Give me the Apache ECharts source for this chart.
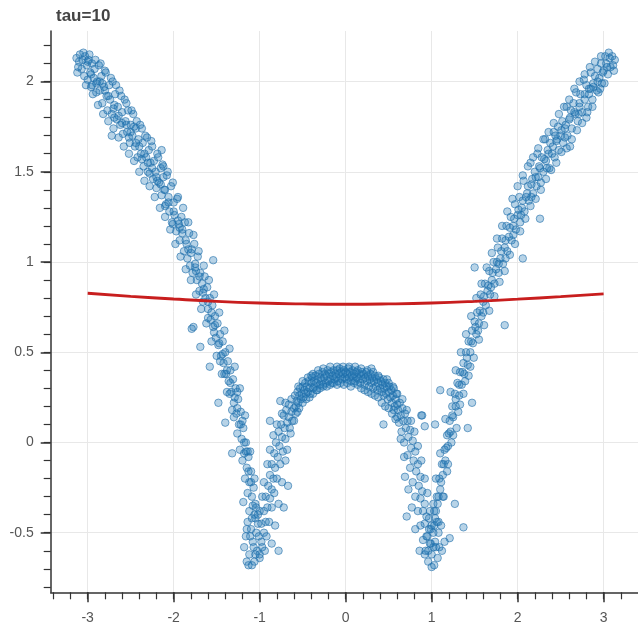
<!DOCTYPE html>
<html>
<head>
<meta charset="utf-8">
<script src="https://cdn.jsdelivr.net/npm/echarts@6/dist/echarts.min.js"></script>
<style>
  html, body { margin: 0; padding: 0; background: #fff; }
  #chart { width: 638px; height: 630px; }
</style>
</head>
<body>
<div id="chart"></div>
<script>
// tick labels
let xTicks = [-3, -2, -1, 0, 1, 2, 3];
let yTicks = [-0.5, 0, 0.5, 1, 1.5, 2];

// red fitted curve
let curveX = [-3, -2.5, -2, -1.5, -1, -0.5, 0, 0.5, 1, 1.5, 2, 2.5, 3];
let curveY = [0.827, 0.81, 0.795, 0.782, 0.773, 0.768, 0.766, 0.768, 0.773, 0.782, 0.794, 0.808, 0.824];

// scatter points
let leftArm = [
  [-3.13,2.13],[-3.10,2.11],[-3.09,2.15],[-3.07,2.07],[-3.06,2.12],[-3.04,2.03],[-3.03,2.14],[-3.01,2.09],
  [-3.00,2.01],[-2.99,2.12],[-2.97,2.05],[-2.96,1.97],[-2.95,2.10],[-2.93,2.02],[-2.92,2.07],[-2.90,1.94],
  [-2.89,2.00],[-2.87,2.09],[-2.86,1.95],[-2.84,2.03],[-2.83,1.88],[-2.81,1.97],[-2.80,2.06],[-2.78,1.92],
  [-2.77,1.84],[-2.75,1.98],[-2.74,1.90],[-2.72,1.82],[-2.71,2.00],[-2.69,1.87],[-2.68,1.93],[-2.66,1.79],
  [-2.65,1.86],[-2.63,1.95],[-2.62,1.76],[-2.60,1.83],[-2.59,1.71],[-2.57,1.90],[-2.56,1.78],[-2.54,1.72],
  [-2.53,1.84],[-2.51,1.66],[-2.50,1.76],[-2.48,1.70],[-2.47,1.82],[-2.45,1.64],[-2.44,1.74],[-2.42,1.58],
  [-2.41,1.68],[-2.39,1.76],[-2.38,1.60],[-2.36,1.66],[-2.35,1.53],[-2.33,1.70],[-2.32,1.58],[-2.30,1.50],
  [-2.29,1.62],[-2.27,1.55],[-2.26,1.67],[-2.24,1.46],[-2.23,1.56],[-2.21,1.50],[-2.20,1.41],[-2.18,1.58],
  [-2.17,1.44],[-2.15,1.52],[-2.14,1.37],[-2.12,1.47],[-2.11,1.40],[-2.09,1.32],[-2.08,1.48],[-2.06,1.36],
  [-2.05,1.28],[-2.03,1.42],[-2.02,1.22],[-2.00,1.33],[-1.99,1.26],[-1.97,1.17],[-1.96,1.35],[-1.94,1.21],
  [-1.93,1.12],[-1.91,1.25],[-1.90,1.16],[-1.88,1.06],[-1.87,1.22],[-1.85,1.10],[-1.84,1.02],[-1.82,1.16],
  [-1.81,0.98],[-1.79,1.07],[-1.78,0.94],[-1.76,1.10],[-1.75,0.99],[-1.73,0.90],[-1.72,1.03],[-1.70,0.84],
  [-1.69,0.94],[-1.67,0.88],[-1.66,0.78],[-1.64,0.92],[-1.63,0.80],[-1.61,0.86],[-1.60,0.74],[-1.58,0.80],
  [-1.57,0.68],[-1.55,0.76],[-1.54,0.64],[-1.52,0.70],[-1.51,0.58],[-1.49,0.66],[-1.48,0.54],[-1.46,0.60],
  [-1.45,0.48],[-1.43,0.56],[-1.42,0.44],[-1.40,0.50],[-1.39,0.38],[-1.37,0.45],[-1.36,0.34],[-1.34,0.40],
  [-1.33,0.28],[-1.31,0.35],[-1.30,0.22],[-1.28,0.30],[-1.27,0.16],[-1.25,0.24],[-1.24,0.10],[-1.22,0.17],
  [-1.21,0.02],[-1.19,0.08],[-1.18,-0.06],[-1.16,0.00],[-1.15,-0.14],[-1.13,-0.08],[-1.12,-0.22],[-1.10,-0.16],
  [-1.09,-0.30],[-1.07,-0.25],[-1.06,-0.40],[-1.05,-0.34],[-1.04,-0.50],
  [-1.08,-0.55],[-1.12,-0.62],[-1.15,-0.66],[-1.13,-0.68],[-1.03,-0.60],[-1.10,-0.48],[-1.00,-0.64],[-1.06,-0.66],
  [-1.18,-0.58],[-1.05,-0.62],[-0.98,-0.55],[-1.09,-0.68],[-1.02,-0.40],[-1.14,-0.44],
  [-1.79,0.63],[-1.69,0.53],[-1.58,0.42],[-1.48,0.22],[-1.40,0.11],[-1.32,-0.06],[-1.15,-0.48],[-0.78,-0.60],
  [-2.72,1.70],[-2.14,1.62],[-2.12,1.53],[-1.54,1.01],[-1.77,0.64],[-1.14,-0.05]
];

let leftArmEdge = [
  [-3.12,2.05],[-3.05,2.16],[-3.02,1.98],[-2.98,2.15],[-2.94,1.93],[-2.91,2.12],[-2.88,1.87],[-2.85,2.10],
  [-2.82,1.82],[-2.79,2.05],[-2.76,1.78],[-2.73,2.02],[-2.70,1.74],[-2.67,1.98],[-2.64,1.69],[-2.61,1.92],
  [-2.58,1.64],[-2.55,1.88],[-2.52,1.60],[-2.49,1.84],[-2.46,1.56],[-2.43,1.78],[-2.40,1.50],[-2.37,1.74],
  [-2.34,1.45],[-2.31,1.69],[-2.28,1.42],[-2.25,1.64],[-2.22,1.36],[-2.19,1.60],[-2.16,1.30],[-2.13,1.54],
  [-2.10,1.25],[-2.07,1.50],[-2.04,1.18],[-2.01,1.44],[-1.98,1.10],[-1.95,1.36],[-1.92,1.03],[-1.89,1.30],
  [-1.86,0.96],[-1.83,1.22],[-1.80,0.90],[-1.77,1.15],[-1.74,0.82],[-1.71,1.06],[-1.68,0.74],[-1.65,0.98],
  [-1.62,0.66],[-1.59,0.90],[-1.56,0.56],[-1.53,0.82],[-1.50,0.48],[-1.47,0.72],[-1.44,0.38],[-1.41,0.62],
  [-1.38,0.28],[-1.35,0.52],[-1.32,0.18],[-1.29,0.42],[-1.26,0.05],[-1.23,0.30],[-1.20,-0.10],[-1.17,0.15],
  [-1.14,-0.28],[-1.11,-0.05],[-1.09,-0.42],[-1.06,-0.20],[-1.04,-0.36],[-1.11,-0.52],[-1.02,-0.45]
];

let leftArmCore = [
  [-3.11,2.08],[-3.00,2.11],[-2.96,2.04],[-2.90,1.99],[-2.86,2.00],[-2.80,1.95],[-2.76,1.92],[-2.70,1.85],
  [-2.64,1.81],[-2.60,1.77],[-2.55,1.76],[-2.50,1.72],[-2.44,1.66],[-2.40,1.64],[-2.34,1.60],[-2.30,1.55],
  [-2.25,1.52],[-2.20,1.47],[-2.15,1.43],[-2.10,1.40],[-2.06,1.33],[-2.00,1.28],[-1.95,1.23],[-1.90,1.18],
  [-1.86,1.12],[-1.80,1.05],[-1.75,0.97],[-1.70,0.92],[-1.65,0.85],[-1.60,0.78],[-1.56,0.72],[-1.52,0.65],
  [-1.47,0.55],[-1.43,0.49],[-1.38,0.40],[-1.34,0.33],[-1.29,0.25],[-1.26,0.19],[-1.22,0.10],[-1.18,0.00],
  [-1.16,-0.05],[-1.13,-0.16],[-1.10,-0.22],[-1.08,-0.35],[-1.05,-0.42],
  [-2.95,1.98],[-2.83,1.99],[-2.69,1.80],[-2.52,1.69],[-2.46,1.75],[-2.37,1.57],[-2.28,1.49],[-2.19,1.45],
  [-2.10,1.31],[-2.01,1.21],[-1.93,1.19],[-1.83,1.07],[-1.74,0.95],[-1.66,0.83],[-1.60,0.69],[-1.53,0.61],
  [-1.46,0.45],[-1.41,0.38],[-1.35,0.27],[-1.30,0.14],[-1.26,0.28],[-1.20,0.12],[-1.23,-0.04],[-1.17,-0.20],
  [-1.19,-0.33],[-1.12,-0.38],[-1.16,-0.52],[-1.07,-0.58]
];

let hump = [
  [-1.00,-0.62],[-0.97,-0.58],[-1.01,-0.52],[-0.95,-0.50],[-0.98,-0.45],[-0.93,-0.44],[-0.95,-0.38],[-0.91,-0.36],
  [-0.93,-0.30],[-0.88,-0.31],[-0.90,-0.24],[-0.86,-0.26],[-0.88,-0.18],[-0.84,-0.20],[-0.86,-0.12],[-0.82,-0.14],
  [-0.83,-0.06],[-0.79,-0.08],[-0.81,0.00],[-0.77,-0.02],[-0.78,0.06],[-0.74,0.03],[-0.75,0.10],[-0.71,0.08],
  [-0.72,0.15],[-0.68,0.11],[-0.69,0.18],[-0.66,0.14],[-0.66,0.21],[-0.63,0.17],[-0.63,0.24],[-0.60,0.19],
  [-0.88,0.12],[-0.76,0.23],[-0.72,-0.36],[-0.67,-0.24],[-0.68,-0.04],
  [-0.59,0.26],[-0.58,0.20],[-0.57,0.23],[-0.56,0.28],[-0.55,0.22],[-0.54,0.26],[-0.53,0.30],[-0.52,0.24],
  [-0.51,0.27],[-0.50,0.31],[-0.49,0.25],[-0.48,0.29],[-0.47,0.33],[-0.46,0.27],[-0.45,0.31],[-0.44,0.28],
  [-0.43,0.34],[-0.42,0.30],[-0.41,0.27],[-0.40,0.33],[-0.39,0.36],[-0.38,0.30],[-0.37,0.34],[-0.36,0.31],
  [-0.35,0.37],[-0.34,0.33],[-0.33,0.29],[-0.32,0.35],[-0.31,0.38],[-0.30,0.32],[-0.29,0.36],[-0.28,0.34],
  [-0.27,0.39],[-0.26,0.31],[-0.25,0.36],[-0.24,0.38],[-0.23,0.33],[-0.22,0.37],[-0.21,0.40],[-0.20,0.34],
  [-0.19,0.38],[-0.18,0.35],[-0.17,0.39],[-0.16,0.33],[-0.15,0.37],[-0.14,0.40],[-0.13,0.35],[-0.12,0.38],
  [-0.11,0.36],[-0.10,0.40],[-0.09,0.34],[-0.08,0.38],[-0.07,0.41],[-0.06,0.36],[-0.05,0.39],[-0.04,0.35],
  [-0.03,0.38],[-0.02,0.40],[-0.01,0.36],[0.00,0.39],[0.01,0.35],[0.02,0.38],[0.03,0.41],[0.04,0.36],
  [0.05,0.39],[0.06,0.34],[0.07,0.37],[0.08,0.40],[0.09,0.36],[0.10,0.38],[0.11,0.34],[0.12,0.39],
  [0.13,0.36],[0.14,0.40],[0.15,0.35],[0.16,0.38],[0.17,0.33],[0.18,0.37],[0.19,0.39],[0.20,0.35],
  [0.21,0.38],[0.22,0.32],[0.23,0.36],[0.24,0.39],[0.25,0.34],[0.26,0.37],[0.27,0.31],[0.28,0.35],
  [0.29,0.38],[0.30,0.33],[0.31,0.36],[0.32,0.30],[0.33,0.34],[0.34,0.37],[0.35,0.31],[0.36,0.35],
  [0.37,0.29],[0.38,0.33],[0.39,0.36],[0.40,0.30],[0.41,0.34],[0.42,0.28],[0.43,0.32],[0.44,0.26],
  [0.45,0.30],[0.46,0.33],[0.47,0.27],[0.48,0.31],[0.49,0.24],[0.50,0.28],[0.51,0.31],[0.52,0.25],
  [0.53,0.29],[0.54,0.22],[0.55,0.26],[0.56,0.30],[0.57,0.20],[0.58,0.24],[0.59,0.27],[0.60,0.21],
  [0.61,0.18],[0.63,0.22],[0.64,0.15],[0.66,0.19],[0.67,0.12],[0.69,0.16],[0.70,0.08],[0.72,0.12],
  [0.73,0.03],[0.75,0.07],[0.76,-0.03],[0.78,0.01],[0.79,-0.10],[0.81,-0.05],[0.82,-0.16],[0.84,-0.12],
  [0.85,-0.24],[0.87,-0.19],[0.87,-0.31],[0.89,-0.27],[0.90,-0.38],[0.92,-0.34],[0.92,-0.45],[0.94,-0.41],
  [0.95,-0.52],[0.97,-0.48],[0.96,-0.60],[0.99,-0.56],
  [0.71,-0.41],[0.69,-0.19],[0.44,0.10],[0.88,0.15],[0.92,0.09]
];

let humpEdge = [
  [-0.58,0.16],[-0.54,0.19],[-0.50,0.22],[-0.46,0.24],[-0.42,0.25],[-0.38,0.27],[-0.34,0.29],[-0.30,0.30],
  [-0.26,0.32],[-0.22,0.31],[-0.18,0.32],[-0.14,0.33],[-0.10,0.32],[-0.06,0.33],[-0.02,0.32],[0.02,0.33],
  [0.06,0.31],[0.10,0.33],[0.14,0.32],[0.18,0.30],[0.22,0.29],[0.26,0.28],[0.30,0.27],[0.34,0.26],
  [0.38,0.25],[0.42,0.22],[0.46,0.20],[0.50,0.19],[0.54,0.16],[0.58,0.13],
  [-0.50,0.34],[-0.44,0.36],[-0.38,0.38],[-0.32,0.40],[-0.26,0.41],[-0.18,0.42],[-0.10,0.42],[-0.03,0.42],
  [0.04,0.42],[0.11,0.42],[0.18,0.41],[0.25,0.40],[0.32,0.39],[0.38,0.37],[0.44,0.35],[0.50,0.33],
  [0.55,0.31],[0.60,0.27],
  [-0.62,0.12],[-0.65,0.08],[-0.70,0.02],[-0.73,-0.05],[-0.76,-0.12],[-0.80,-0.20],[-0.83,-0.28],[-0.86,-0.36],
  [-0.89,-0.44],[-0.92,-0.52],[-0.94,-0.60],[-0.70,0.22],[-0.74,0.16],[-0.80,0.10],[-0.84,0.04],[-0.88,-0.04],
  [-0.91,-0.12],[-0.95,-0.22],[-0.97,-0.30],[-1.00,-0.38],
  [0.62,0.11],[0.65,0.06],[0.68,0.00],[0.72,-0.07],[0.75,-0.14],[0.78,-0.22],[0.81,-0.30],[0.84,-0.38],
  [0.87,-0.46],[0.90,-0.54],[0.92,-0.62],[0.66,0.24],[0.71,0.18],[0.76,0.12],[0.80,0.06],[0.84,-0.02],
  [0.88,-0.10],[0.92,-0.20],[0.95,-0.28],[0.98,-0.38],[1.00,-0.46],
  [-0.64,0.05],[-0.60,0.12],[-0.56,0.17],[-0.70,-0.10],[-0.74,-0.22],[-0.78,-0.34],[-0.82,-0.46],[-0.86,-0.56],
  [0.60,0.14],[0.56,0.18],[0.64,0.02],[0.68,-0.08],[0.73,-0.26],[0.77,-0.36],[0.81,-0.48],[0.86,-0.60],
  [0.30,0.41],[-0.40,0.37],[0.48,0.35],[-0.55,0.31]
];

let rightArm = [
  [3.13,2.12],[3.10,2.14],[3.08,2.08],[3.07,2.13],[3.05,2.04],[3.03,2.10],[3.02,2.14],[3.00,2.06],
  [2.98,1.99],[2.97,2.10],[2.95,2.02],[2.93,2.07],[2.92,1.95],[2.90,2.03],[2.88,1.97],[2.87,1.90],
  [2.85,2.05],[2.83,1.93],[2.82,1.86],[2.80,1.98],[2.78,1.90],[2.77,2.01],[2.75,1.83],[2.73,1.93],
  [2.72,1.86],[2.70,1.78],[2.68,1.94],[2.67,1.82],[2.65,1.88],[2.63,1.74],[2.62,1.84],[2.60,1.79],
  [2.58,1.70],[2.57,1.86],[2.55,1.74],[2.53,1.66],[2.52,1.78],[2.50,1.70],[2.48,1.62],[2.47,1.75],
  [2.45,1.67],[2.43,1.58],[2.42,1.72],[2.40,1.60],[2.38,1.66],[2.37,1.52],[2.35,1.62],[2.33,1.56],
  [2.32,1.68],[2.30,1.50],[2.28,1.58],[2.27,1.44],[2.25,1.53],[2.23,1.60],[2.22,1.42],[2.20,1.50],
  [2.18,1.38],[2.17,1.46],[2.15,1.55],[2.13,1.34],[2.12,1.42],[2.10,1.36],[2.08,1.28],[2.07,1.45],
  [2.05,1.30],[2.03,1.22],[2.02,1.36],[2.00,1.26],[1.98,1.18],[1.97,1.32],[1.95,1.20],[1.93,1.12],
  [1.92,1.25],[1.90,1.14],[1.88,1.06],[1.87,1.20],[1.85,1.08],[1.83,0.99],[1.82,1.13],[1.80,1.02],
  [1.78,0.94],[1.77,1.08],[1.75,0.96],[1.73,0.88],[1.72,1.00],[1.70,0.90],[1.68,0.82],[1.67,0.95],
  [1.65,0.84],[1.63,0.76],[1.62,0.88],[1.60,0.78],[1.58,0.70],[1.57,0.82],[1.55,0.66],[1.53,0.72],
  [1.52,0.60],[1.50,0.67],[1.48,0.55],[1.47,0.62],[1.45,0.50],[1.43,0.56],[1.42,0.43],[1.40,0.50],
  [1.38,0.38],[1.37,0.44],[1.35,0.32],[1.33,0.39],[1.32,0.26],[1.30,0.33],[1.28,0.20],[1.27,0.27],
  [1.25,0.14],[1.24,0.20],[1.22,0.06],[1.21,0.12],[1.19,-0.02],[1.18,0.04],[1.16,-0.10],[1.15,-0.04],
  [1.13,-0.18],[1.12,-0.12],[1.10,-0.26],[1.09,-0.20],[1.07,-0.34],[1.06,-0.30],[1.04,-0.42],[1.03,-0.38],
  [1.02,-0.50],
  [0.98,-0.56],[1.00,-0.62],[1.05,-0.58],[0.96,-0.66],[1.03,-0.68],[1.07,-0.64],[0.93,-0.60],[1.08,-0.50],
  [0.94,-0.52],[1.04,-0.55],[1.12,-0.60],[0.97,-0.42],[1.06,-0.44],[1.00,-0.69],
  [1.50,0.97],[1.85,0.65],[1.10,0.29],[1.04,0.10],[0.89,0.15],[1.42,0.08],[1.47,0.22],[1.37,-0.47],
  [1.21,-0.53],[1.27,-0.34],[2.06,1.02],[2.26,1.24],[2.61,1.64],[2.80,1.80]
];

let rightArmEdge = [
  [3.12,2.06],[3.06,2.16],[3.01,1.99],[2.97,2.14],[2.94,1.94],[2.90,2.11],[2.87,1.86],[2.84,2.08],
  [2.81,1.83],[2.78,2.04],[2.75,1.77],[2.72,2.00],[2.69,1.73],[2.66,1.96],[2.63,1.68],[2.60,1.90],
  [2.57,1.63],[2.54,1.86],[2.51,1.61],[2.48,1.82],[2.45,1.55],[2.42,1.77],[2.39,1.51],[2.36,1.72],
  [2.33,1.46],[2.30,1.68],[2.27,1.40],[2.24,1.63],[2.21,1.35],[2.18,1.58],[2.15,1.31],[2.12,1.53],
  [2.09,1.24],[2.06,1.48],[2.03,1.17],[2.00,1.42],[1.97,1.10],[1.94,1.35],[1.91,1.04],[1.88,1.28],
  [1.85,0.95],[1.82,1.20],[1.79,0.89],[1.76,1.13],[1.73,0.81],[1.70,1.05],[1.67,0.73],[1.64,0.97],
  [1.61,0.65],[1.58,0.88],[1.55,0.57],[1.52,0.80],[1.49,0.47],[1.46,0.70],[1.43,0.37],[1.40,0.60],
  [1.37,0.27],[1.34,0.50],[1.31,0.17],[1.28,0.40],[1.25,0.04],[1.22,0.28],[1.19,-0.12],[1.16,0.13],
  [1.13,-0.30],[1.10,-0.06],[1.08,-0.44],[1.05,-0.20],[1.02,-0.34],[0.99,-0.48],[1.09,-0.58]
];

let rightArmCore = [
  [3.11,2.09],[3.04,2.08],[2.99,2.05],[2.93,2.00],[2.88,1.99],[2.83,1.96],[2.78,1.93],[2.72,1.88],
  [2.66,1.83],[2.61,1.80],[2.56,1.76],[2.51,1.73],[2.46,1.68],[2.41,1.64],[2.36,1.60],[2.31,1.57],
  [2.26,1.52],[2.21,1.47],[2.16,1.43],[2.11,1.38],[2.06,1.34],[2.01,1.29],[1.96,1.24],[1.91,1.19],
  [1.86,1.12],[1.81,1.06],[1.76,1.00],[1.71,0.94],[1.66,0.87],[1.61,0.81],[1.56,0.73],[1.51,0.64],
  [1.46,0.56],[1.41,0.47],[1.36,0.39],[1.32,0.32],[1.28,0.24],[1.24,0.15],[1.20,0.05],[1.17,-0.03],
  [1.14,-0.12],[1.11,-0.22],[1.08,-0.30],[1.05,-0.38],[1.03,-0.46],
  [2.96,1.96],[2.85,1.96],[2.71,1.82],[2.55,1.69],[2.44,1.70],[2.34,1.52],[2.24,1.47],[2.16,1.36],
  [2.04,1.26],[1.95,1.15],[1.86,1.02],[1.78,0.99],[1.69,0.86],[1.60,0.72],[1.54,0.62],[1.45,0.42],
  [1.39,0.34],[1.33,0.21],[1.29,0.08],[1.23,0.00],[1.18,-0.16],[1.14,-0.30],[1.11,-0.46],[1.15,-0.55],
  [1.02,-0.58]
];

let chart = echarts.init(document.getElementById('chart'));

let xMinor = [];
for (let i = -17; i <= 16; i++) xMinor.push(+(i * 0.2).toFixed(1));
let yMinor = [];
for (let i = -8; i <= 22; i++) yMinor.push(+(i * 0.1).toFixed(1));

let points = leftArm.concat(leftArmEdge, leftArmCore, hump, humpEdge, rightArm, rightArmEdge, rightArmCore);
let curve = curveX.map(function (x, i) { return [x, curveY[i]]; });

let gridBox = { left: 50.7, right: 0, top: 31, bottom: 37.7 };
let font = 'Liberation Sans, Arial, sans-serif';

let option = {
  animation: false,
  title: {
    text: 'tau=10',
    left: 51, top: 3,
    textStyle: { fontSize: 17, fontWeight: 'bold', color: '#444', fontFamily: font }
  },
  grid: [
    Object.assign({}, gridBox),
    Object.assign({}, gridBox)
  ],
  xAxis: [
    {
      gridIndex: 0, type: 'value', min: -3.43, max: 3.4,
      axisLine: { onZero: false, lineStyle: { color: '#333', width: 1.5 } },
      axisTick: { length: 10, customValues: xTicks, lineStyle: { color: '#333', width: 1.5 } },
      axisLabel: { customValues: xTicks, margin: 19, fontSize: 14, color: '#555', fontFamily: font },
      splitLine: { lineStyle: { color: '#e8e8e8' } }
    },
    {
      gridIndex: 1, type: 'value', min: -3.43, max: 3.4,
      axisLine: { show: false, onZero: false },
      axisTick: { length: 7, customValues: xMinor, lineStyle: { color: '#333', width: 1.2 } },
      axisLabel: { show: false },
      splitLine: { show: false }
    }
  ],
  yAxis: [
    {
      gridIndex: 0, type: 'value', min: -0.83, max: 2.28,
      axisLine: { show: true, onZero: false, lineStyle: { color: '#333', width: 1.5 } },
      axisTick: { show: true, length: 10, customValues: yTicks, lineStyle: { color: '#333', width: 1.5 } },
      axisLabel: { customValues: yTicks, margin: 17, fontSize: 14, color: '#555', fontFamily: font },
      splitLine: { lineStyle: { color: '#e8e8e8' } }
    },
    {
      gridIndex: 1, type: 'value', min: -0.83, max: 2.28,
      axisLine: { show: false, onZero: false },
      axisTick: { show: true, length: 7, customValues: yMinor, lineStyle: { color: '#333', width: 1.2 } },
      axisLabel: { show: false },
      splitLine: { show: false }
    }
  ],
  series: [
    {
      type: 'scatter',
      xAxisIndex: 0, yAxisIndex: 0,
      data: points,
      symbol: 'circle',
      symbolSize: 7.5,
      itemStyle: { color: 'rgba(31,119,180,0.4)', borderColor: 'rgba(31,110,170,0.75)', borderWidth: 1 }
    },
    {
      type: 'line',
      xAxisIndex: 0, yAxisIndex: 0,
      data: curve,
      smooth: true,
      showSymbol: false,
      lineStyle: { color: '#c81e1e', width: 2.8 },
      z: 5
    }
  ]
};

chart.setOption(option);
</script>
</body>
</html>
